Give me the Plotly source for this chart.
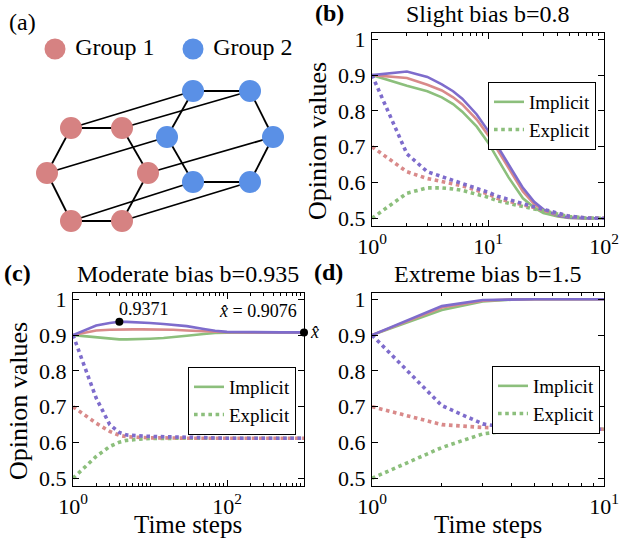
import numpy as np
import plotly.graph_objects as go

# ---- data ----
# (a) network: node positions (pixel units of panel a)
red_x = [71, 122, 148, 122, 71, 47]
red_y = [128, 128, 173, 221, 221, 173]
blue_x = [193, 250, 273, 250, 193, 167]
blue_y = [91, 91, 137, 182, 182, 137]

# (b) slight bias b=0.8
t_b = [1, 2, 3, 4, 5, 6, 8, 10, 12, 15, 20, 25, 30, 40, 50, 70, 100]
b_imp_green = [0.9, 0.870, 0.855, 0.838, 0.819, 0.798, 0.756, 0.712, 0.668, 0.615, 0.556, 0.530, 0.515, 0.505, 0.501, 0.5, 0.5]
b_imp_red = [0.9, 0.892, 0.873, 0.857, 0.838, 0.818, 0.776, 0.733, 0.693, 0.640, 0.575, 0.540, 0.522, 0.507, 0.502, 0.5, 0.5]
b_imp_purple = [0.9, 0.910, 0.895, 0.874, 0.855, 0.834, 0.790, 0.745, 0.703, 0.650, 0.585, 0.546, 0.525, 0.508, 0.502, 0.5, 0.5]
b_exp_green = [0.5, 0.570, 0.585, 0.585, 0.582, 0.578, 0.567, 0.559, 0.549, 0.541, 0.533, 0.526, 0.520, 0.510, 0.505, 0.501, 0.5]
b_exp_red = [0.7, 0.630, 0.611, 0.603, 0.597, 0.591, 0.578, 0.568, 0.556, 0.548, 0.538, 0.530, 0.523, 0.511, 0.505, 0.501, 0.5]
b_exp_purple = [0.9, 0.680, 0.630, 0.617, 0.607, 0.598, 0.585, 0.573, 0.562, 0.552, 0.541, 0.532, 0.525, 0.512, 0.506, 0.501, 0.5]

# (c) moderate bias b=0.935
t_c = [1, 2, 3, 4, 5, 6, 8, 10, 15, 20, 30, 50, 70, 100, 200, 500, 1000]
c_imp_green = [0.9, 0.893, 0.890, 0.888, 0.888, 0.888, 0.889, 0.890, 0.892, 0.894, 0.898, 0.903, 0.906, 0.907, 0.9075, 0.9076, 0.9076]
c_imp_red = [0.9, 0.913, 0.915, 0.916, 0.916, 0.916, 0.916, 0.916, 0.915, 0.915, 0.913, 0.911, 0.909, 0.908, 0.9077, 0.9076, 0.9076]
c_imp_purple = [0.9, 0.927, 0.934, 0.9371, 0.937, 0.9365, 0.935, 0.934, 0.931, 0.929, 0.925, 0.917, 0.912, 0.909, 0.9077, 0.9076, 0.9076]
c_exp_green = [0.5, 0.561, 0.589, 0.601, 0.606, 0.608, 0.610, 0.611, 0.612, 0.612, 0.612, 0.612, 0.612, 0.612, 0.612, 0.612, 0.612]
c_exp_red = [0.7, 0.654, 0.631, 0.620, 0.616, 0.615, 0.614, 0.613, 0.613, 0.612, 0.612, 0.612, 0.612, 0.612, 0.612, 0.612, 0.612]
c_exp_purple = [0.9, 0.724, 0.650, 0.628, 0.621, 0.619, 0.618, 0.617, 0.616, 0.615, 0.614, 0.613, 0.613, 0.612, 0.612, 0.612, 0.612]
c_peak = (4, 0.9371)
c_final = (1000, 0.9076)

# (d) extreme bias b=1.5
t_d = [1, 2, 3, 4, 5, 6, 7, 8, 9, 10]
d_imp_green = [0.9, 0.970, 0.994, 0.999, 1, 1, 1, 1, 1, 1]
d_imp_red = [0.9, 0.977, 0.996, 0.9995, 1, 1, 1, 1, 1, 1]
d_imp_purple = [0.9, 0.981, 0.998, 1, 1, 1, 1, 1, 1, 1]
d_exp_green = [0.5, 0.586, 0.624, 0.634, 0.636, 0.637, 0.637, 0.637, 0.637, 0.637]
d_exp_red = [0.7, 0.650, 0.642, 0.639, 0.638, 0.637, 0.637, 0.637, 0.637, 0.637]
d_exp_purple = [0.9, 0.703, 0.652, 0.640, 0.638, 0.637, 0.637, 0.637, 0.637, 0.637]

y_ticks = [0.5, 0.6, 0.7, 0.8, 0.9, 1]
y_labels = ["0.5", "0.6", "0.7", "0.8", "0.9", "1"]
y_range = [0.4785, 1.0176]

FONT = "Liberation Serif"
GREEN = "#8cbf7c"
RED = "#d98a8a"
PURPLE = "#7e6ccc"
NODE_RED = "#d68282"
NODE_BLUE = "#5a90e6"

W, H = 624, 539


def px_x(p):
    return p / W


def px_y(p):
    return 1 - p / H


fig = go.Figure()

# ---- panel (a) ----
edge_x, edge_y = [], []
for xs, ys in [(red_x, red_y), (blue_x, blue_y)]:
    for i in range(6):
        j = (i + 1) % 6
        edge_x += [xs[i], xs[j], None]
        edge_y += [ys[i], ys[j], None]
for i in range(6):
    edge_x += [red_x[i], blue_x[i], None]
    edge_y += [red_y[i], blue_y[i], None]

fig.add_trace(go.Scatter(x=edge_x, y=edge_y, mode="lines", line=dict(color="black", width=1.8),
                         xaxis="x4", yaxis="y4", showlegend=False, hoverinfo="skip"))
fig.add_trace(go.Scatter(x=red_x, y=red_y, mode="markers", marker=dict(color=NODE_RED, size=22),
                         xaxis="x4", yaxis="y4", showlegend=False))
fig.add_trace(go.Scatter(x=blue_x, y=blue_y, mode="markers", marker=dict(color=NODE_BLUE, size=22),
                         xaxis="x4", yaxis="y4", showlegend=False))
fig.add_trace(go.Scatter(x=[55, 193], y=[49, 49], mode="markers+text",
                         marker=dict(color=[NODE_RED, NODE_BLUE], size=21),
                         text=[" Group 1", " Group 2"], textposition="middle right",
                         textfont=dict(family=FONT, size=24, color="black"),
                         xaxis="x4", yaxis="y4", showlegend=False, cliponaxis=False))


def add_panel(t, greens, reds, purples, xa, ya, leg):
    solid = dict(width=2.6)
    dot = dict(width=3.6, dash="dot")
    fig.add_trace(go.Scatter(x=t, y=greens[0], mode="lines", name="Implicit",
                             line=dict(color=GREEN, **solid), xaxis=xa, yaxis=ya, legend=leg))
    fig.add_trace(go.Scatter(x=t, y=reds[0], mode="lines", line=dict(color=RED, **solid),
                             xaxis=xa, yaxis=ya, showlegend=False))
    fig.add_trace(go.Scatter(x=t, y=purples[0], mode="lines", line=dict(color=PURPLE, **solid),
                             xaxis=xa, yaxis=ya, showlegend=False))
    fig.add_trace(go.Scatter(x=t, y=greens[1], mode="lines", name="Explicit",
                             line=dict(color=GREEN, **dot), xaxis=xa, yaxis=ya, legend=leg))
    fig.add_trace(go.Scatter(x=t, y=reds[1], mode="lines", line=dict(color=RED, **dot),
                             xaxis=xa, yaxis=ya, showlegend=False))
    fig.add_trace(go.Scatter(x=t, y=purples[1], mode="lines", line=dict(color=PURPLE, **dot),
                             xaxis=xa, yaxis=ya, showlegend=False))


add_panel(t_b, (b_imp_green, b_exp_green), (b_imp_red, b_exp_red), (b_imp_purple, b_exp_purple),
          "x", "y", "legend")
add_panel(t_c, (c_imp_green, c_exp_green), (c_imp_red, c_exp_red), (c_imp_purple, c_exp_purple),
          "x2", "y2", "legend2")
add_panel(t_d, (d_imp_green, d_exp_green), (d_imp_red, d_exp_red), (d_imp_purple, d_exp_purple),
          "x3", "y3", "legend3")

fig.add_trace(go.Scatter(x=[c_peak[0], c_final[0]], y=[c_peak[1], c_final[1]], mode="markers",
                         marker=dict(color="black", size=8), xaxis="x2", yaxis="y2",
                         showlegend=False, cliponaxis=False))


def x_axis(dom, decades, anchor, step=1):
    major = [10 ** d for d in range(0, decades + 1, step)]
    minor = [m * 10 ** d for d in range(decades) for m in range(1, 10)]
    minor = [v for v in minor if v not in major]
    return dict(type="log", domain=dom, range=[0, decades], anchor=anchor, automargin=False,
                tickvals=major,
                ticktext=["10<sup>%d</sup>" % d for d in range(0, decades + 1, step)],
                ticks="inside", ticklen=6, tickwidth=1, tickcolor="black",
                minor=dict(tickmode="array", tickvals=minor, ticks="inside",
                           ticklen=3, tickcolor="black", showgrid=False),
                showline=True, linecolor="black", linewidth=1.3, mirror="allticks",
                showgrid=False, zeroline=False,
                tickfont=dict(family=FONT, size=22, color="black"))


def y_axis(dom, anchor):
    return dict(domain=dom, range=y_range, anchor=anchor, automargin=False,
                tickvals=y_ticks, ticktext=y_labels,
                ticks="inside", ticklen=6, tickwidth=1, tickcolor="black",
                showline=True, linecolor="black", linewidth=1.3, mirror="allticks",
                showgrid=False, zeroline=False, ticklabelstandoff=1,
                tickfont=dict(family=FONT, size=22, color="black"))


xb = [px_x(372), px_x(604)]
xc = [px_x(73), px_x(304)]
yb = [px_y(226), px_y(33)]
ycd = [px_y(486), px_y(293)]

legend_style = dict(bgcolor="white", bordercolor="black", borderwidth=1,
                    font=dict(family=FONT, size=19, color="black"),
                    itemwidth=30, tracegroupgap=0, xanchor="left", yanchor="top")

fig.update_layout(
    width=W, height=H, margin=dict(l=0, r=0, t=0, b=0, autoexpand=False),
    paper_bgcolor="white", plot_bgcolor="white",
    font=dict(family=FONT, color="black"),
    xaxis=x_axis(xb, 2, "y"),
    yaxis=y_axis(yb, "x"),
    xaxis2=x_axis(xc, 3, "y2", step=2),
    yaxis2=y_axis(ycd, "x2"),
    xaxis3=x_axis(xb, 1, "y3"),
    yaxis3=y_axis(ycd, "x3"),
    xaxis4=dict(domain=[0, px_x(300)], range=[0, 300], visible=False, anchor="y4", automargin=False),
    yaxis4=dict(domain=[px_y(260), 1], range=[260, 0], visible=False, anchor="x4", automargin=False),
    legend=dict(x=px_x(488), y=px_y(82), **legend_style),
    legend2=dict(x=px_x(188), y=px_y(367), **legend_style),
    legend3=dict(x=px_x(492), y=px_y(366), **legend_style),
)


def label(text, x, y, size, **kw):
    fig.add_annotation(text=text, x=px_x(x), y=px_y(y), xref="paper", yref="paper",
                       xanchor="center", yanchor="middle",
                       showarrow=False, font=dict(family=FONT, size=size, color="black"), **kw)


label("(a)", 22, 22, 24)
label("<b>(b)</b>", 329, 13, 24)
label("<b>(c)</b>", 17, 273, 24)
label("<b>(d)</b>", 328, 272, 24)
label("Slight bias b=0.8", 488, 14, 24)
label("Moderate bias b=0.935", 188, 274, 24)
label("Extreme bias b=1.5", 488, 274, 24)
label("Opinion values", 317, 141, 26, textangle=-90)
label("Opinion values", 18, 401, 26, textangle=-90)
label("Time steps", 188, 524, 25)
label("Time steps", 488, 524, 25)

# annotations inside panel (c)
fig.add_annotation(text="0.9371", x=np.log10(c_peak[0]), y=c_peak[1], xref="x2", yref="y2",
                   showarrow=False, xanchor="left", yanchor="bottom", yshift=1, xshift=-2,
                   font=dict(family=FONT, size=18, color="black"))
fig.add_annotation(text="<i>x̂</i> = 0.9076", x=px_x(299), y=px_y(311), xref="paper", yref="paper",
                   showarrow=False, xanchor="right", yanchor="middle",
                   font=dict(family=FONT, size=18, color="black"))
fig.add_annotation(text="<i>x̂</i>", x=np.log10(c_final[0]), y=c_final[1], xref="x2", yref="y2",
                   showarrow=False, xanchor="left", yanchor="middle", xshift=4,
                   font=dict(family=FONT, size=18, color="black"))

# the page body has a default 8px margin; drop it so the figure sits at (0, 0)
fig.write_html("out.html", config={"displayModeBar": False},
               post_script="document.body.style.margin='0';")
